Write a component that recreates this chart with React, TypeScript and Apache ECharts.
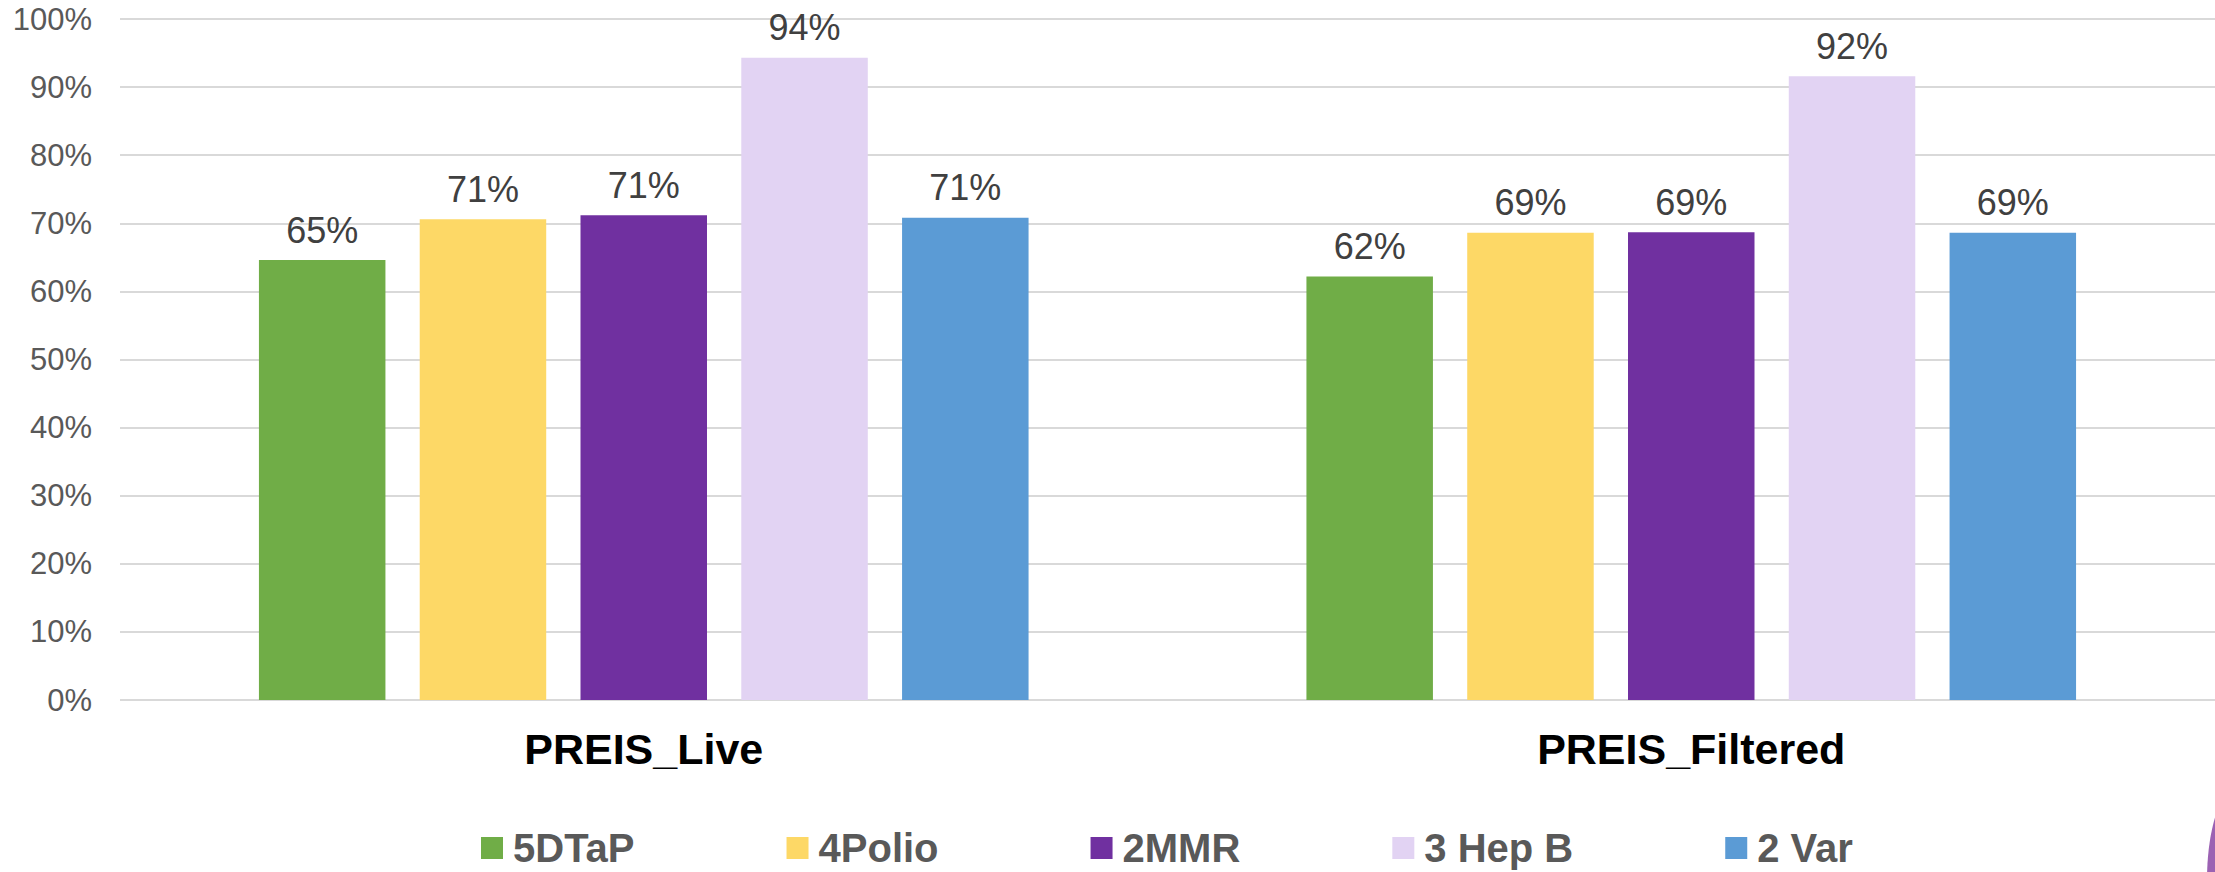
import React, { useEffect, useRef } from "react";
import * as echarts from "echarts";

const categories = ["PREIS_Live", "PREIS_Filtered"];
const seriesNames = ["5DTaP", "4Polio", "2MMR", "3 Hep B", "2 Var"];
const dtap = [64.6, 62.2];
const polio = [70.6, 68.6];
const mmr = [71.2, 68.7];
const hepB = [94.3, 91.6];
const varicella = [70.8, 68.6];
const colors = ["#70AD47", "#FDD866", "#7030A0", "#E2D3F3", "#5B9BD5"];
const yTicks = { min: 0, max: 100, interval: 10 };

const FONT = "'Liberation Sans', Arial, Helvetica, sans-serif";

export default function App() {
  const ref = useRef<HTMLDivElement>(null);
  useEffect(() => {
    document.body.style.margin = "0";
    const chart = echarts.init(ref.current!, null, { renderer: "svg" });
    const values = [dtap, polio, mmr, hepB, varicella];
    chart.setOption({
      animation: false,
      backgroundColor: "#ffffff",
      textStyle: { fontFamily: FONT },
      grid: { left: 120, right: 0, top: 19, bottom: 172, containLabel: false },
      legend: {
        left: 481,
        top: 828,
        padding: 0,
        itemWidth: 22,
        itemHeight: 22,
        itemGap: 152,
        icon: "rect",
        data: seriesNames,
        textStyle: {
          fontFamily: FONT,
          fontSize: 40,
          fontWeight: "bold",
          color: "#595959",
          padding: [0, 0, 0, 5],
        },
      },
      xAxis: {
        type: "category",
        data: categories,
        axisLine: { show: false },
        axisTick: { show: false },
        axisLabel: {
          fontFamily: FONT,
          fontSize: 43,
          fontWeight: "bold",
          color: "#000000",
          margin: 27,
        },
      },
      yAxis: {
        type: "value",
        min: yTicks.min,
        max: yTicks.max,
        interval: yTicks.interval,
        axisLine: { show: false },
        axisTick: { show: false },
        splitLine: { lineStyle: { color: "#D9D9D9", width: 2 } },
        axisLabel: {
          formatter: "{value}%",
          fontFamily: FONT,
          fontSize: 31,
          color: "#595959",
          margin: 28,
        },
      },
      series: seriesNames.map((name, i) => ({
        name,
        type: "bar",
        data: values[i],
        barWidth: 126.5,
        barGap: "27.1%",
        itemStyle: { color: colors[i] },
        label: {
          show: true,
          position: "top",
          distance: 12,
          fontFamily: FONT,
          fontSize: 36,
          color: "#404040",
          formatter: (p: any) => Math.round(p.value) + "%",
        },
      })),
      graphic: [
        {
          type: "ellipse",
          shape: { cx: 2241, cy: 880, rx: 34, ry: 97 },
          style: { fill: "#9B62B3" },
          silent: true,
        },
      ],
    });
    return () => chart.dispose();
  }, []);
  return (
    <div
      ref={ref}
      style={{ position: "fixed", left: 0, top: 0, width: 2215, height: 872 }}
    />
  );
}
